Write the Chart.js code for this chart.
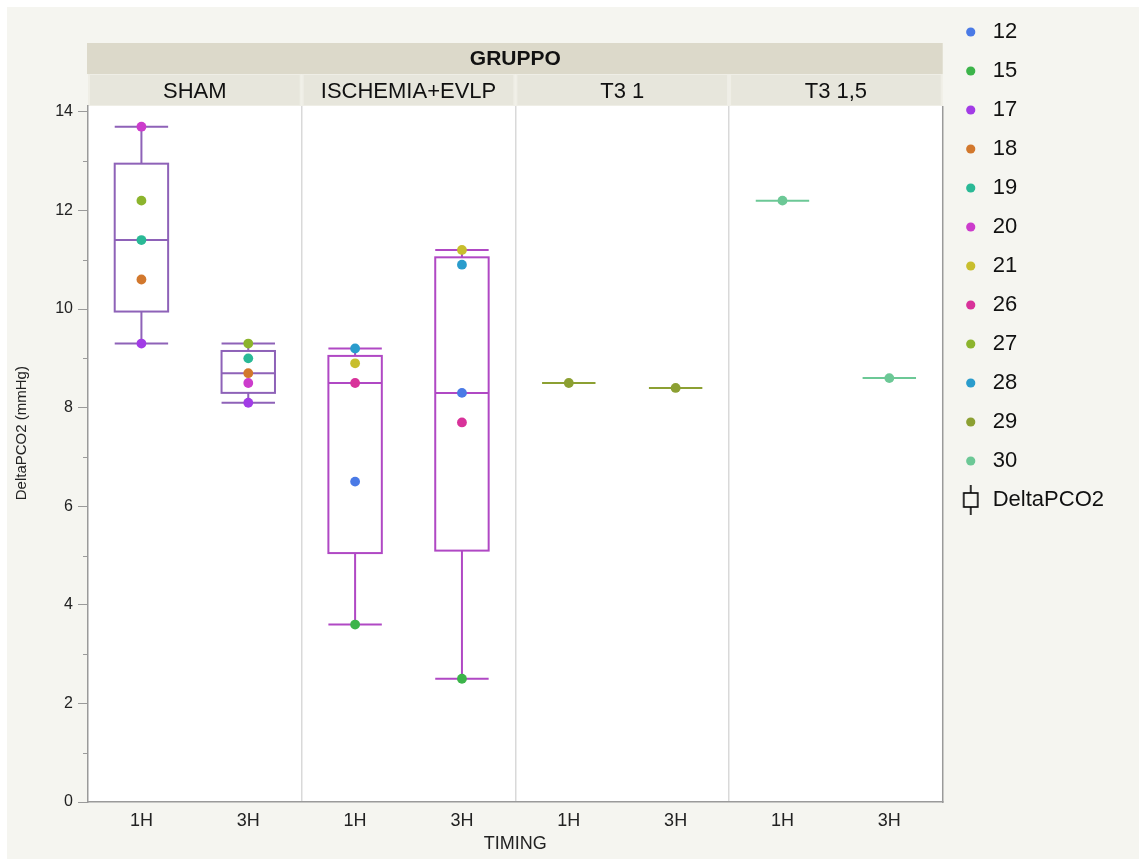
<!DOCTYPE html>
<html><head><meta charset="utf-8">
<script src="https://cdn.jsdelivr.net/npm/chart.js@4.4.0/dist/chart.umd.min.js"></script>
<style>html,body{margin:0;padding:0;background:#fff;}#wrap{position:absolute;left:0;top:0;width:1139px;height:859px;}</style>
</head><body><div id="wrap"><canvas id="c" width="1139" height="859"></canvas></div>
<script>
// ---- data ----
const groups = ['SHAM', 'ISCHEMIA+EVLP', 'T3 1', 'T3 1,5'];
const categories = ['SHAM 1H', 'SHAM 3H', 'ISCHEMIA+EVLP 1H', 'ISCHEMIA+EVLP 3H', 'T3 1 1H', 'T3 1 3H', 'T3 1,5 1H', 'T3 1,5 3H'];
const categoryTimings = ['1H', '3H', '1H', '3H', '1H', '3H', '1H', '3H'];
const pigIds = ['12', '15', '17', '18', '19', '20', '21', '26', '27', '28', '29', '30'];
const pig12 = [null, null, 6.5, 8.3, null, null, null, null];
const pig15 = [null, null, 3.6, 2.5, null, null, null, null];
const pig17 = [9.3, 8.1, null, null, null, null, null, null];
const pig18 = [10.6, 8.7, null, null, null, null, null, null];
const pig19 = [11.4, 9.0, null, null, null, null, null, null];
const pig20 = [13.7, 8.5, null, null, null, null, null, null];
const pig21 = [null, null, 8.9, 11.2, null, null, null, null];
const pig26 = [null, null, 8.5, 7.7, null, null, null, null];
const pig27 = [12.2, 9.3, null, null, null, null, null, null];
const pig28 = [null, null, 9.2, 10.9, null, null, null, null];
const pig29 = [null, null, null, null, 8.5, 8.4, null, null];
const pig30 = [null, null, null, null, null, null, 12.2, 8.6];
const pigValues = [pig12, pig15, pig17, pig18, pig19, pig20, pig21, pig26, pig27, pig28, pig29, pig30];
const yTicks = [0, 2, 4, 6, 8, 10, 12, 14];
const yMinorTicks = [1, 3, 5, 7, 9, 11, 13];

// ---- styles ----
const pigColors = ['#4a7ae6', '#3cb44a', '#a23ce6', '#d2782d', '#2ab996', '#cc3ccc', '#c8be2d', '#d8329a', '#8cb42d', '#2a9ccc', '#8ca032', '#6cc896'];
const boxColors = ['#8e62b8', '#8e62b8', '#b048c4', '#b048c4', '#8ca032', '#8ca032', '#6cc896', '#6cc896'];
const FONT = '"Liberation Sans", Arial, Helvetica, sans-serif';

function quant(s, p) {
  const n = s.length;
  if (n === 1) return s[0];
  let pos = (n + 1) * p;
  if (pos < 1) pos = 1;
  if (pos > n) pos = n;
  const lo = Math.floor(pos), f = pos - lo;
  if (lo >= n) return s[n - 1];
  return s[lo - 1] + f * (s[lo] - s[lo - 1]);
}

const icon = document.createElement('canvas');
icon.width = 20; icon.height = 30;
(function () {
  const g = icon.getContext('2d');
  g.strokeStyle = '#000'; g.lineWidth = 1.6;
  g.beginPath(); g.moveTo(10, 0); g.lineTo(10, 8); g.moveTo(10, 22); g.lineTo(10, 30); g.stroke();
  g.strokeRect(3, 8, 14, 14);
})();

const facetPlugin = {
  id: 'facets',
  beforeDraw(chart) {
    const ctx = chart.ctx, a = chart.chartArea;
    ctx.save();
    ctx.fillStyle = '#ffffff'; ctx.fillRect(0, 0, chart.width, chart.height);
    ctx.fillStyle = '#f5f5f0'; ctx.fillRect(7, 7, chart.width - 7, chart.height - 7);
    ctx.fillStyle = '#ffffff'; ctx.fillRect(a.left, a.top, a.right - a.left, a.bottom - a.top);
    // GRUPPO strip
    ctx.fillStyle = '#dcd9ca';
    ctx.fillRect(a.left - 1, a.top - 63, a.right - a.left + 1, 31);
    // group strips
    const xs = chart.scales.x;
    const step = xs.getPixelForValue(1) - xs.getPixelForValue(0);
    for (let g = 0; g < groups.length; g++) {
      const l = xs.getPixelForValue(g * 2) - step / 2;
      const r = xs.getPixelForValue(g * 2 + 1) + step / 2;
      ctx.fillStyle = '#efeee6';
      ctx.fillRect(l, a.top - 32, r - l, 32);
      ctx.fillStyle = '#e7e6dc';
      ctx.fillRect(l + 2, a.top - 31, r - l - 4, 30);
    }
    ctx.restore();
  },
  beforeDatasetsDraw(chart) {
    const ctx = chart.ctx, xs = chart.scales.x, ys = chart.scales.y;
    const step = xs.getPixelForValue(1) - xs.getPixelForValue(0);
    const hw = step * 0.25;
    ctx.save();
    ctx.lineWidth = 2;
    for (let i = 0; i < categories.length; i++) {
      const vals = pigValues.map(a => a[i]).filter(v => v !== null).sort((p, q) => p - q);
      if (!vals.length) continue;
      const mn = vals[0], mx = vals[vals.length - 1];
      const q1 = quant(vals, 0.25), md = quant(vals, 0.5), q3 = quant(vals, 0.75);
      const cx = xs.getPixelForValue(i);
      const Y = v => ys.getPixelForValue(v);
      ctx.strokeStyle = boxColors[i];
      ctx.beginPath();
      ctx.moveTo(cx, Y(mn)); ctx.lineTo(cx, Y(q1));
      ctx.moveTo(cx, Y(q3)); ctx.lineTo(cx, Y(mx));
      ctx.moveTo(cx - hw, Y(mn)); ctx.lineTo(cx + hw, Y(mn));
      ctx.moveTo(cx - hw, Y(mx)); ctx.lineTo(cx + hw, Y(mx));
      ctx.moveTo(cx - hw, Y(md)); ctx.lineTo(cx + hw, Y(md));
      ctx.stroke();
      if (vals.length > 1) ctx.strokeRect(cx - hw, Y(q3), 2 * hw, Y(q1) - Y(q3));
    }
    ctx.restore();
  },
  afterDraw(chart) {
    const ctx = chart.ctx, a = chart.chartArea, ys = chart.scales.y;
    ctx.save();
    ctx.strokeStyle = '#9a9a9a'; ctx.lineWidth = 1.5;
    ctx.beginPath(); ctx.moveTo(a.right, a.top); ctx.lineTo(a.right, a.bottom + 1); ctx.stroke();
    ctx.lineWidth = 1;
    ctx.beginPath();
    yMinorTicks.forEach(v => { const y = Math.round(ys.getPixelForValue(v)) + 0.5; ctx.moveTo(a.left - 5, y); ctx.lineTo(a.left, y); });
    ctx.stroke();
    ctx.restore();
  }
};

const datasets = pigIds.map((id, k) => ({
  label: id, data: pigValues[k], showLine: false,
  pointRadius: 4.9, pointHoverRadius: 4.9, pointBorderWidth: 0,
  pointBackgroundColor: pigColors[k], borderColor: pigColors[k], backgroundColor: pigColors[k]
}));

new Chart(document.getElementById('c'), {
  type: 'line',
  data: { labels: categories, datasets },
  plugins: [facetPlugin],
  options: {
    responsive: false, animation: false, devicePixelRatio: 1,
    layout: { padding: { top: 4, right: 25, bottom: 0, left: 0 } },
    plugins: {
      tooltip: { enabled: false },
      title: { display: true, text: 'GRUPPO', fullSize: false, color: '#111', font: { family: FONT, size: 21, weight: 'bold' }, padding: { top: 42.4, bottom: 2.4 } },
      legend: {
        position: 'right', align: 'start',
        labels: {
          usePointStyle: true, boxHeight: 6.5, padding: 17, color: '#111',
          font: { family: FONT, size: 22 },
          generateLabels: () => pigIds.map((id, k) => ({ text: id, fillStyle: pigColors[k], strokeStyle: pigColors[k], lineWidth: 0, pointStyle: 'circle', hidden: false, datasetIndex: k, fontColor: '#111' }))
            .concat([{ text: 'DeltaPCO2', fillStyle: '#000', strokeStyle: '#000', lineWidth: 0, pointStyle: icon, hidden: false, fontColor: '#111' }])
        }
      }
    },
    scales: {
      x: {
        type: 'category', offset: true,
        afterFit: s => { s.height = 57; },
        ticks: { callback: (v, i) => categoryTimings[i], autoSkip: false, maxRotation: 0, color: '#222', padding: 8, font: { family: FONT, size: 18 } },
        grid: { offset: true, drawTicks: false, lineWidth: 1.5, color: c => [2, 4, 6].includes(c.index) ? '#d9d9d9' : 'rgba(0,0,0,0)' },
        border: { display: true, color: '#9a9a9a', width: 1.5 },
        title: { display: true, text: 'TIMING', color: '#222', font: { family: FONT, size: 18 }, padding: { top: 0, bottom: 4 } }
      },
      x2: {
        type: 'category', labels: groups, position: 'top', offset: true,
        afterFit: s => { s.height = 32; },
        grid: { display: false }, border: { display: false },
        ticks: { autoSkip: false, maxRotation: 0, color: '#111', padding: -7, font: { family: FONT, size: 22 } }
      },
      y: {
        min: 0, max: 14.12,
        afterBuildTicks: s => { s.ticks = yTicks.map(v => ({ value: v })); },
        afterFit: s => { s.width = 88; },
        ticks: { color: '#222', padding: 5, font: { family: FONT, size: 16 } },
        grid: { drawOnChartArea: false, drawTicks: true, tickLength: 10, tickColor: '#9a9a9a', tickWidth: 1 },
        border: { display: true, color: '#9a9a9a', width: 1.5 },
        title: { display: true, text: '\u00a0\u00a0\u00a0\u00a0\u00a0\u00a0\u00a0\u00a0\u00a0\u00a0DeltaPCO2 (mmHg)', color: '#222', font: { family: FONT, size: 15 }, padding: { top: 13, bottom: 0 } }
      }
    }
  }
});
</script>
</body></html>
